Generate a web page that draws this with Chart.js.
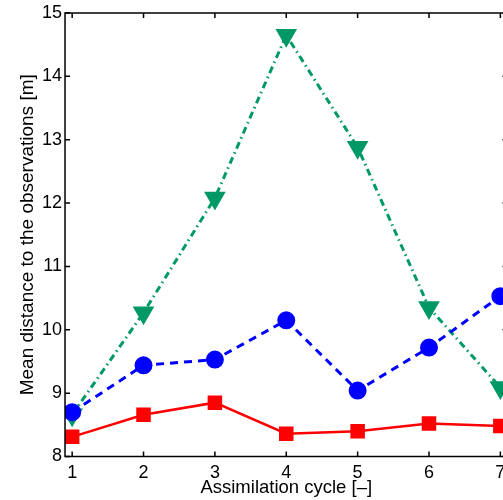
<!DOCTYPE html>
<html>
<head>
<meta charset="utf-8">
<script src="https://cdn.jsdelivr.net/npm/chart.js@4/dist/chart.umd.min.js"></script>
<style>
  html, body { margin: 0; padding: 0; background: #fff; overflow: hidden; }
  #wrap { width: 520px; height: 500px; }
</style>
</head>
<body>
<div id="wrap"><canvas id="plot"></canvas></div>
<script>
// values
const cycles = [1, 2, 3, 4, 5, 6, 7];
const redSquares = [8.31, 8.66, 8.85, 8.36, 8.40, 8.52, 8.48];
const blueCircles = [8.70, 9.44, 9.53, 10.15, 9.04, 9.72, 10.53];
const greenTriangles = [8.66, 10.27, 12.08, 14.65, 12.88, 10.35, 9.09];
const yTicks = [8, 9, 10, 11, 12, 13, 14, 15];

const pts = vals => cycles.map((c, i) => ({ x: c, y: vals[i] }));
const family = '"Liberation Sans", Arial, sans-serif';
const font = { family: family, size: 18, lineHeight: 1 };

// matlab style box with inward ticks
const frame = {
    id: 'frame',
    afterDatasetsDraw(chart) {
        const { ctx, chartArea: a, scales } = chart;
        const tl = 5;
        ctx.save();
        ctx.strokeStyle = '#000';
        ctx.lineWidth = 1.5;
        ctx.strokeRect(a.left, a.top, a.right - a.left, a.bottom - a.top);
        ctx.beginPath();
        cycles.forEach(v => {
            const px = scales.x.getPixelForValue(v);
            ctx.moveTo(px, a.bottom); ctx.lineTo(px, a.bottom - tl);
            ctx.moveTo(px, a.top); ctx.lineTo(px, a.top + tl);
        });
        yTicks.forEach(v => {
            const py = scales.y.getPixelForValue(v);
            ctx.moveTo(a.left, py); ctx.lineTo(a.left + tl, py);
            ctx.moveTo(a.right, py); ctx.lineTo(a.right - tl, py);
        });
        ctx.stroke();
        ctx.restore();
    }
};

new Chart(document.getElementById('plot'), {
    type: 'line',
    data: {
        datasets: [{
                label: 'red',
                data: pts(redSquares),
                borderColor: '#ff0000',
                backgroundColor: '#ff0000',
                borderWidth: 2.5,
                pointStyle: 'rect',
                pointRadius: 8.5,
                pointHoverRadius: 8.5
            }, {
                label: 'blue',
                data: pts(blueCircles),
                borderColor: '#0000ff',
                backgroundColor: '#0000ff',
                borderWidth: 3,
                borderDash: [8, 6],
                pointStyle: 'circle',
                pointRadius: 7.5,
                pointHoverRadius: 7.5
            }, {
                label: 'green',
                data: pts(greenTriangles),
                borderColor: 'rgb(0,153,102)',
                backgroundColor: 'rgb(0,153,102)',
                borderWidth: 3,
                borderDash: [7, 4, 1.5, 4],
                pointStyle: 'triangle',
                rotation: 180,
                pointRadius: 9.5,
                pointHoverRadius: 9.5
            }]
    },
    options: {
        responsive: true,
        maintainAspectRatio: false,
        animation: false,
        layout: { padding: { top: 13, right: 3, left: 18, bottom: 0 } },
        plugins: { legend: { display: false }, tooltip: { enabled: false } },
        scales: {
            x: {
                type: 'linear',
                min: 0.9,
                max: 7.1,
                afterBuildTicks: s => { s.ticks = cycles.map(v => ({ value: v })); },
                grid: { display: false, drawTicks: false },
                border: { display: false },
                ticks: { color: '#000', font: font, padding: 8, maxRotation: 0 },
                title: { display: true, text: 'Assimilation cycle [–]', color: '#000', font: { family: family, size: 18.5, lineHeight: 1 }, padding: { top: -12, bottom: 3 } }
            },
            y: {
                min: 8,
                max: 15,
                afterBuildTicks: s => { s.ticks = yTicks.map(v => ({ value: v })); },
                grid: { display: false, drawTicks: false },
                border: { display: false },
                ticks: { color: '#000', font: font, padding: 3 },
                title: { display: true, text: 'Mean distance to the observations [m]', color: '#000', font: { family: family, size: 19, lineHeight: 1 }, padding: { top: 0, bottom: 2 } }
            }
        }
    },
    plugins: [frame]
});
</script>
</body>
</html>
